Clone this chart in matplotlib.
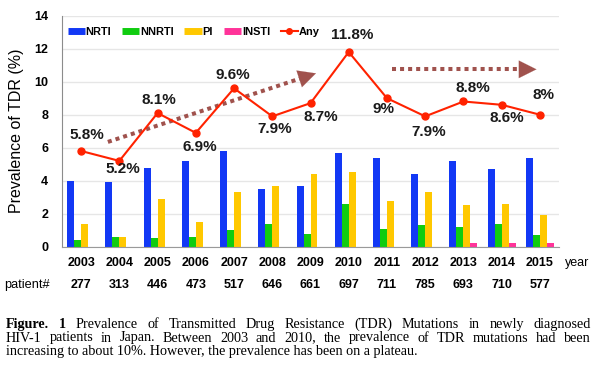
import matplotlib
matplotlib.use("Agg")
import matplotlib.pyplot as plt
from matplotlib.lines import Line2D
from matplotlib.transforms import blended_transform_factory
import numpy as np

plt.rcParams['font.family'] = ['Liberation Sans', 'DejaVu Sans']

years = ['2003', '2004', '2005', '2006', '2007', '2008', '2009',
         '2010', '2011', '2012', '2013', '2014', '2015']
patients = ['277', '313', '446', '473', '517', '646', '661',
            '697', '711', '785', '693', '710', '577']
nrti = [4.0, 3.9, 4.8, 5.2, 5.8, 3.5, 3.7, 5.7, 5.4, 4.4, 5.2, 4.7, 5.4]
nnrti = [0.4, 0.6, 0.5, 0.6, 1.0, 1.4, 0.8, 2.6, 1.1, 1.3, 1.2, 1.4, 0.7]
pi = [1.4, 0.6, 2.9, 1.5, 3.3, 3.7, 4.4, 4.5, 2.8, 3.3, 2.5, 2.6, 1.9]
insti = [0, 0, 0, 0, 0, 0, 0, 0, 0, 0, 0.2, 0.2, 0.2]
any_tdr = [5.8, 5.2, 8.1, 6.9, 9.6, 7.9, 8.7, 11.8, 9, 7.9, 8.8, 8.6, 8]
any_labels = ['5.8%', '5.2%', '8.1%', '6.9%', '9.6%', '7.9%', '8.7%',
              '11.8%', '9%', '7.9%', '8.8%', '8.6%', '8%']

# label offsets from the point, in pixels (dx, dy)
lab_off = [(6, 16), (4, -8), (1, 13), (4, -14), (-1, 13), (2, -13), (10, -14),
           (3, 17), (-3, -11), (3, -16), (9, 14), (5, -13), (4, 20)]

c_nrti = '#1238F5'
c_nnrti = '#10CC10'
c_pi = '#FFC800'
c_insti = '#FF3399'
c_any = '#FF2200'
c_arrow = '#A0524D'

fig = plt.figure(figsize=(6, 3.68), dpi=100)
ax = fig.add_axes([62/600, 1-246.7/368, 497/600, 231/368])

x = np.arange(len(years))
w = 0.183
ax.bar(x - 1.5*w, nrti, w, color=c_nrti, zorder=2)
ax.bar(x - 0.5*w, nnrti, w, color=c_nnrti, zorder=2)
ax.bar(x + 0.5*w, pi, w, color=c_pi, zorder=2)
ax.bar(x + 1.5*w, insti, w, color=c_insti, zorder=2)
ax.plot(x, any_tdr, color=c_any, lw=1.5, marker='o', ms=5, zorder=4)

for i in range(len(years)):
    ax.annotate(any_labels[i], (x[i], any_tdr[i]), xytext=lab_off[i],
                textcoords='offset pixels', ha='center', va='center',
                fontsize=11, fontweight='bold', color='#1a1a1a', zorder=5)

# trend arrows
for (x0, y0, x1, y1) in [(0.70, 6.35, 5.95, 10.36), (8.12, 10.75, 11.8, 10.75)]:
    ax.plot([x0, x1], [y0, y1], color=c_arrow, lw=2.9, ls=(0, (1, 1)),
            solid_capstyle='butt', dash_capstyle='butt', zorder=3)
    dx, dy = x1 - x0, y1 - y0
    ax.annotate('', xy=(x1 + dx*0.05, y1 + dy*0.05), xytext=(x1, y1),
                arrowprops=dict(arrowstyle='-|>,head_length=0.9,head_width=0.45',
                                color=c_arrow, lw=0.1, mutation_scale=14),
                zorder=3)

ax.set_xlim(-0.5, 12.5)
ax.set_ylim(0, 14)
ax.set_yticks(range(0, 15, 2))
ax.set_xticks([])
ax.tick_params(axis='y', length=0, pad=10, labelsize=9)
for lb in ax.get_yticklabels():
    lb.set_fontweight('bold')
ax.grid(axis='y', color='#E6E6E6', lw=1, zorder=0)
ax.set_axisbelow(True)
for s in ['top', 'right']:
    ax.spines[s].set_visible(False)
ax.spines['left'].set_color('#8C8C8C')
ax.spines['bottom'].set_color('#9A9A9A')
ax.set_ylabel('Prevalence of TDR (%)', fontsize=11.5, labelpad=7)

handles = [Line2D([], [], color=c_nrti, lw=5, solid_capstyle='butt'),
           Line2D([], [], color=c_nnrti, lw=5, solid_capstyle='butt'),
           Line2D([], [], color=c_pi, lw=5, solid_capstyle='butt'),
           Line2D([], [], color=c_insti, lw=5, solid_capstyle='butt'),
           Line2D([], [], color=c_any, lw=1.5, marker='o', ms=4)]
leg = ax.legend(handles, ['NRTI', 'NNRTI', 'PI', 'INSTI', 'Any'], ncol=5,
                loc='upper left', bbox_to_anchor=(0.0, 0.975), frameon=False,
                handlelength=1.55, handletextpad=0.1, columnspacing=0.95,
                borderpad=0, prop={'weight': 'bold', 'size': 7.95})

tr = blended_transform_factory(ax.transData, fig.transFigure)
for i in range(len(years)):
    ax.text(x[i], 1-263/368, years[i], transform=tr, ha='center', va='center',
            fontsize=9, fontweight='bold')
    ax.text(x[i], 1-285/368, patients[i], transform=tr, ha='center', va='center',
            fontsize=9, fontweight='bold')
fig.text(577/600, 1-263/368, 'year', ha='center', va='center', fontsize=9)
fig.text(4/600, 1-285/368, 'patient#', ha='left', va='center', fontsize=9.2)

# caption, justified like the source
cap_lines = [
    'Figure. 1 Prevalence of Transmitted Drug Resistance (TDR) Mutations in newly diagnosed',
    'HIV-1 patients in Japan. Between 2003 and 2010, the prevalence of TDR mutations had been',
    'increasing to about 10%. However, the prevalence has been on a plateau.',
]
cap_y = [328, 341.5, 355]
cap_size = 10.2
left, right = 6, 591
renderer = fig.canvas.get_renderer()
for k, line in enumerate(cap_lines):
    if k == 2:
        fig.text(left/600, 1-cap_y[k]/368, line, ha='left', va='baseline',
                 fontsize=cap_size, family='Liberation Serif')
        continue
    words = line.split(' ')
    texts = []
    for j, wd in enumerate(words):
        bold = (k == 0 and j < 2)
        t = fig.text(0, 1-cap_y[k]/368, wd, ha='left', va='baseline',
                     fontsize=cap_size, family='Liberation Serif',
                     fontweight='bold' if bold else 'normal')
        texts.append(t)
    widths = [t.get_window_extent(renderer).width for t in texts]
    gap = (right - left - sum(widths)) / (len(words) - 1)
    pos = left
    for t, wdt in zip(texts, widths):
        t.set_x(pos/600)
        pos += wdt + gap

fig.savefig('out.png', dpi=100)
